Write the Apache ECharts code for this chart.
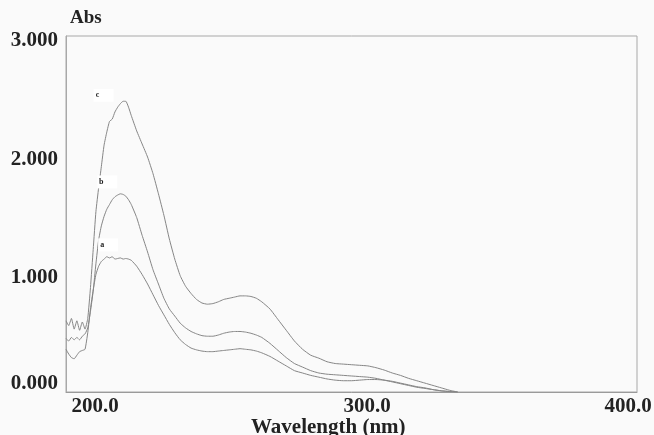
<!DOCTYPE html>
<html>
<head>
<meta charset="utf-8">
<script src="https://cdn.jsdelivr.net/npm/echarts@6/dist/echarts.min.js"></script>
<style>
  html, body { margin: 0; padding: 0; background: #fafafa; }
  #chart { width: 654px; height: 435px; }
</style>
</head>
<body>
<div id="chart"></div>
<script>
// wavelength grid (nm)
var wavelengths = [190,191,192,193,194,195,196,197,198,199,200,201,202,203,204,205,206,207,208,209,210,211,212,213,214,216,218,220,222,224,226,228,230,232,234,236,238,240,242,244,246,248,250,252,254,256,258,260,262,265,268,271,274,277,280,283,286,289,292,295,298,301,304,307,310,313,316,319,322,325,328,331,334];

// absorbance of the three spectra
var absC = [0.60,0.56,0.62,0.53,0.60,0.52,0.59,0.53,0.62,0.88,1.20,1.52,1.72,1.90,2.08,2.19,2.28,2.30,2.36,2.40,2.43,2.45,2.45,2.40,2.33,2.20,2.09,1.98,1.84,1.67,1.49,1.29,1.12,0.98,0.89,0.83,0.78,0.75,0.74,0.745,0.76,0.78,0.79,0.80,0.81,0.81,0.805,0.79,0.76,0.70,0.61,0.52,0.43,0.36,0.31,0.285,0.255,0.24,0.235,0.23,0.225,0.22,0.205,0.185,0.16,0.14,0.115,0.095,0.075,0.055,0.035,0.015,0];
var absB = [0.45,0.43,0.46,0.44,0.46,0.44,0.47,0.49,0.54,0.68,0.85,1.08,1.28,1.40,1.48,1.54,1.58,1.62,1.645,1.66,1.67,1.665,1.65,1.62,1.58,1.47,1.32,1.18,1.03,0.91,0.79,0.70,0.64,0.58,0.54,0.51,0.49,0.475,0.47,0.47,0.48,0.495,0.505,0.51,0.51,0.505,0.495,0.48,0.46,0.41,0.35,0.29,0.24,0.21,0.18,0.16,0.15,0.145,0.14,0.135,0.13,0.125,0.115,0.10,0.085,0.07,0.055,0.04,0.03,0.02,0.01,0.004,0];
var absA = [0.36,0.32,0.29,0.28,0.31,0.34,0.35,0.36,0.50,0.70,0.86,0.99,1.06,1.10,1.12,1.14,1.13,1.14,1.12,1.125,1.13,1.12,1.125,1.12,1.11,1.06,0.99,0.91,0.82,0.73,0.65,0.57,0.50,0.44,0.40,0.37,0.355,0.345,0.34,0.34,0.345,0.35,0.355,0.36,0.365,0.36,0.355,0.345,0.33,0.30,0.26,0.22,0.18,0.16,0.14,0.125,0.11,0.10,0.095,0.095,0.10,0.105,0.105,0.10,0.09,0.075,0.06,0.045,0.035,0.02,0.01,0.004,0];

var seriesNames = ['a', 'b', 'c'];
// where the little letter tags sit [nm, Abs]
var tagPos = [[205.5, 1.24], [205.2, 1.77], [203.8, 2.50]];

var yTicks = [0, 1, 2, 3];
var xLabels = [200, 300, 400];

var serifFont = '"Liberation Serif", "DejaVu Serif", serif';

function pairs(ys) {
    var out = [];
    for (var i = 0; i < wavelengths.length; i++) {
        out.push([wavelengths[i], ys[i]]);
    }
    return out;
}

var chart = echarts.init(document.getElementById('chart'));

var curves = [absA, absB, absC];
var series = [];
for (var k = 0; k < curves.length; k++) {
    series.push({
        name: seriesNames[k],
        type: 'line',
        data: pairs(curves[k]),
        showSymbol: false,
        smooth: 0.15,
        lineStyle: { color: '#858585', width: 1 },
        markPoint: {
            symbol: 'rect',
            symbolSize: [20, 13],
            itemStyle: { color: '#ffffff' },
            label: {
                show: true,
                formatter: seriesNames[k],
                color: '#222',
                fontSize: 8,
                fontWeight: 'bold',
                fontFamily: serifFont,
                offset: [-6, 0]
            },
            data: [{ coord: tagPos[k] }]
        }
    });
}

var labelRich = {
    fontFamily: serifFont, fontWeight: 'bold', fontSize: 21, color: '#222'
};

var option = {
    backgroundColor: '#fafafa',
    animation: false,
    title: [
        {
            text: 'Abs',
            left: 70,
            top: 9,
            padding: 0,
            textStyle: { fontFamily: serifFont, fontWeight: 'bold', fontSize: 19, color: '#222' }
        },
        {
            text: 'Wavelength (nm)',
            left: 251,
            top: 417,
            padding: 0,
            textStyle: { fontFamily: serifFont, fontWeight: 'bold', fontSize: 21, color: '#222' }
        }
    ],
    grid: {
        left: 66,
        right: 17,
        top: 36,
        bottom: 43,
        outerBoundsMode: 'none',
        containLabel: false,
        show: true,
        borderColor: '#a8a8a8',
        borderWidth: 1,
        backgroundColor: 'transparent'
    },
    xAxis: {
        type: 'value',
        min: 190,
        max: 400,
        axisLine: { show: true, lineStyle: { color: '#9a9a9a', width: 1 } },
        axisTick: { show: false },
        splitLine: { show: false },
        axisLabel: {
            customValues: xLabels,
            margin: 4,
            fontFamily: serifFont,
            fontWeight: 'bold',
            fontSize: 21,
            color: '#222',
            formatter: function (v) {
                return v === 400 ? '{e|' + v.toFixed(1) + '}' : '{m|' + v.toFixed(1) + '}';
            },
            rich: {
                m: echarts.util.extend({ padding: [0, 0, 0, 4] }, labelRich),
                e: echarts.util.extend({ padding: [0, 18, 0, 0] }, labelRich)
            }
        }
    },
    yAxis: {
        type: 'value',
        min: 0,
        max: 3,
        interval: 1,
        axisLine: { show: true, lineStyle: { color: '#a8a8a8', width: 1 } },
        axisTick: { show: false },
        splitLine: { show: false },
        axisLabel: {
            customValues: yTicks,
            margin: 8,
            fontFamily: serifFont,
            fontWeight: 'bold',
            fontSize: 21,
            color: '#222',
            formatter: function (v) {
                return v === 0 ? '{z|' + v.toFixed(3) + '}' : '{n|' + v.toFixed(3) + '}';
            },
            rich: {
                z: echarts.util.extend({ padding: [0, 0, 16, 0] }, labelRich),
                n: echarts.util.extend({ padding: [9, 0, 0, 0] }, labelRich)
            }
        }
    },
    series: series
};

chart.setOption(option);
</script>
</body>
</html>
